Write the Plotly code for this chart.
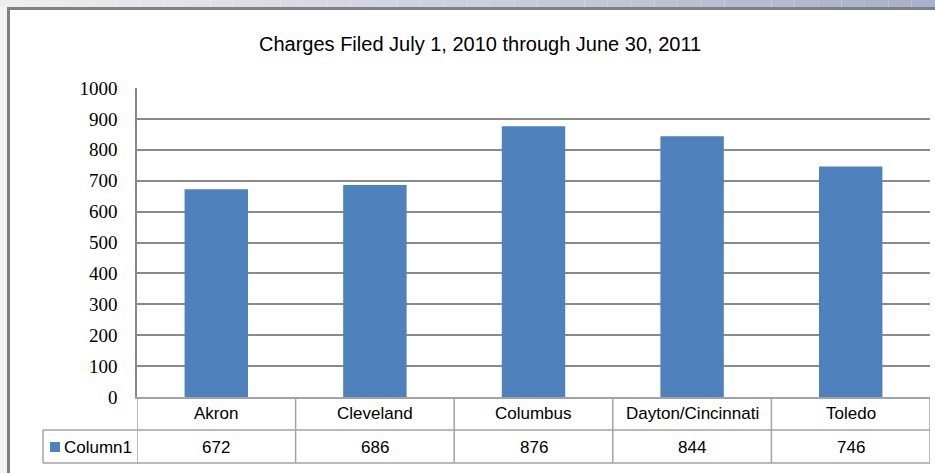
import plotly.graph_objects as go

categories = ["Akron", "Cleveland", "Columbus", "Dayton/Cincinnati", "Toledo"]
values = [672, 686, 876, 844, 746]
series_name = "Column1"
title_text = "Charges Filed July 1, 2010 through June 30, 2011"
y_ticks = [0, 100, 200, 300, 400, 500, 600, 700, 800, 900, 1000]

W, H = 935, 473
L, R, T, B = 137, 930, 88, 397  # plot area in pixels

def px(x):
    return (x - L) / (R - L)

def py(y):
    return (B - y) / (B - T)

BAR = "#4F81BD"
GRID = "#8a8a8a"
TBL = "#a3a3a3"
SANS = "Liberation Sans, Arial, sans-serif"

fig = go.Figure()
fig.add_trace(go.Bar(x=categories, y=values, name=series_name,
                     marker=dict(color=BAR, line=dict(width=0)),
                     showlegend=False, hoverinfo="skip"))

shapes = []
# outer frame: top band gradient and left strip
n = 40
c0 = (238, 238, 240)
c1 = (168, 176, 203)
for i in range(n):
    t = i / (n - 1)
    col = "rgb(%d,%d,%d)" % tuple(round(a + (b - a) * t) for a, b in zip(c0, c1))
    shapes.append(dict(type="rect", xref="paper", yref="paper",
                       x0=px(W * i / n), x1=px(W * (i + 1) / n),
                       y0=py(7), y1=py(0), fillcolor=col, line=dict(width=0), layer="below"))
shapes.append(dict(type="rect", xref="paper", yref="paper", x0=px(0), x1=px(7),
                   y0=py(H), y1=py(7), fillcolor="#f3f3f3", line=dict(width=0), layer="below"))
shapes.append(dict(type="line", xref="paper", yref="paper", x0=px(8.5), x1=px(8.5),
                   y0=py(H), y1=py(7), line=dict(color="#808080", width=3)))
shapes.append(dict(type="line", xref="paper", yref="paper", x0=px(7), x1=px(W),
                   y0=py(8.5), y1=py(8.5), line=dict(color="#808080", width=3)))

# data table lines
for yy in (430, 463):
    shapes.append(dict(type="line", xref="paper", yref="paper", x0=px(43), x1=1,
                       y0=py(yy), y1=py(yy), line=dict(color=TBL, width=1.5)))
for i in range(len(categories) + 1):
    shapes.append(dict(type="line", xref="x", yref="paper", x0=i - 0.5, x1=i - 0.5,
                       y0=py(397), y1=py(463), line=dict(color=TBL, width=1.5)))
shapes.append(dict(type="line", xref="paper", yref="paper", x0=px(43), x1=px(43),
                   y0=py(430), y1=py(463), line=dict(color=TBL, width=1.5)))
# legend key
shapes.append(dict(type="rect", xref="paper", yref="paper", x0=px(50), x1=px(60),
                   y0=py(452), y1=py(442), fillcolor=BAR, line=dict(width=0)))

annotations = [dict(text=title_text, xref="paper", yref="paper", x=px(480), y=py(44),
                    xanchor="center", yanchor="middle", showarrow=False,
                    font=dict(family=SANS, size=20, color="#000000"))]
for c, v in zip(categories, values):
    annotations.append(dict(text=c, xref="x", yref="paper", x=c, y=py(414),
                            xanchor="center", yanchor="middle", showarrow=False,
                            font=dict(family=SANS, size=17, color="#000000")))
    annotations.append(dict(text=str(v), xref="x", yref="paper", x=c, y=py(447),
                            xanchor="center", yanchor="middle", showarrow=False,
                            font=dict(family=SANS, size=17, color="#000000")))
annotations.append(dict(text=series_name, xref="paper", yref="paper", x=px(62), y=py(447),
                        xanchor="left", yanchor="middle", showarrow=False,
                        font=dict(family=SANS, size=17, color="#000000")))

fig.update_layout(
    width=W, height=H,
    margin=dict(l=L, r=W - R, t=T, b=H - B, pad=0),
    paper_bgcolor="white", plot_bgcolor="white",
    bargap=0.6,
    shapes=shapes, annotations=annotations,
    xaxis=dict(range=[-0.5, len(categories) - 0.5], showticklabels=False, ticks="",
               showgrid=False, zeroline=False, showline=True, linecolor=TBL, linewidth=1.5),
    yaxis=dict(range=[0, 1000], tickvals=y_ticks, ticks="", showgrid=True, gridcolor=GRID,
               gridwidth=1.5, zeroline=False, showline=True, linecolor=GRID, linewidth=1.5,
               ticklabelstandoff=14,
               tickfont=dict(family="Liberation Serif, serif", size=19, color="#000000")),
)

fig.write_html("out.html", config={"displayModeBar": False},
               post_script="document.body.style.margin='0px';document.body.style.overflow='hidden';")
